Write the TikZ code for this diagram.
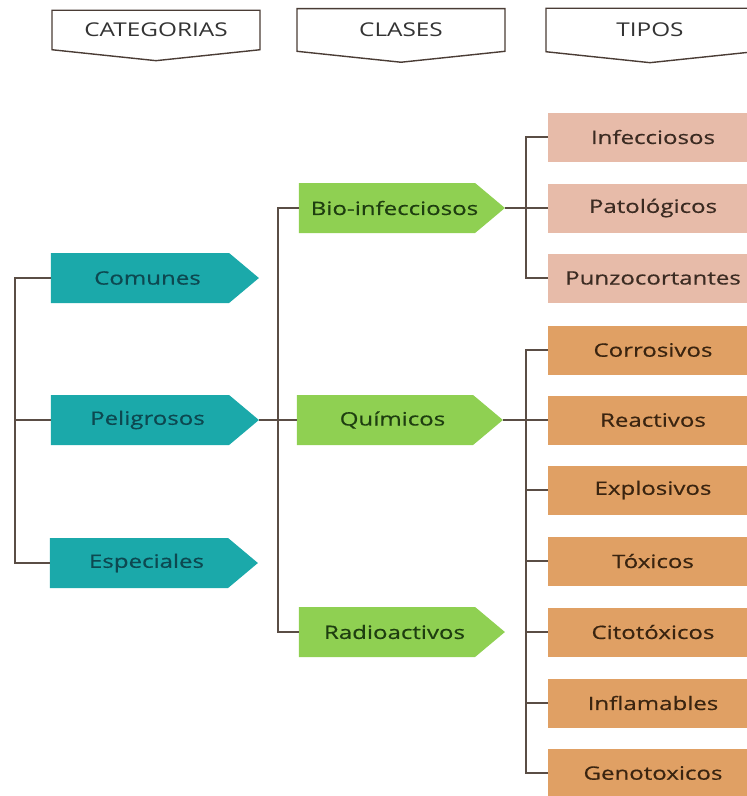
\documentclass[tikz,border=0pt]{standalone}
\usepackage{fontspec}
\setmainfont{Open Sans}[FakeStretch=1.28]
\newfontfamily\boxfont{Open Sans}[FakeStretch=1.3, FakeBold=0.5]
\usetikzlibrary{shapes.symbols}

% label nudged toward the arrow tip, without widening the node
\newcommand{\tiplabel}[1]{\makebox[0pt]{\hspace{15pt}#1}}

\definecolor{tealfill}{HTML}{1BA9AA}
\definecolor{tealtext}{HTML}{0D4850}
\definecolor{greenfill}{HTML}{8FD052}
\definecolor{greentext}{HTML}{1E3E10}
\definecolor{tanfill}{HTML}{E7BBA9}
\definecolor{tantext}{HTML}{3B2B22}
\definecolor{orangefill}{HTML}{E0A064}
\definecolor{orangetext}{HTML}{3A2410}
\definecolor{linecol}{HTML}{5A4D45}
\definecolor{headline}{HTML}{4A3C35}
\definecolor{headtext}{HTML}{333333}

\tikzset{
  header/.style={shape=signal, signal to=south, signal pointer angle=168,
    draw=headline, line width=1.4pt, fill=white, inner sep=0pt,
    minimum width=208pt, minimum height=47pt, text=headtext,
    font=\fontsize{19}{21}\selectfont},
  boxtext/.style={font=\boxfont\fontsize{18.5}{20}\selectfont},
  catbox/.style={shape=signal, signal to=east, signal pointer angle=80,
    fill=tealfill, inner sep=0pt, minimum width=208pt, minimum height=50pt,
    text=tealtext, boxtext},
  clasebox/.style={shape=signal, signal to=east, signal pointer angle=80,
    fill=greenfill, inner sep=0pt, minimum width=206pt, minimum height=50pt,
    text=greentext, boxtext},
  biotipo/.style={rectangle, fill=tanfill, inner sep=0pt,
    minimum width=210pt, minimum height=49pt, text=tantext, boxtext},
  quimtipo/.style={rectangle, fill=orangefill, inner sep=0pt,
    minimum width=210pt, minimum height=49pt, text=orangetext, boxtext},
  link/.style={draw=linecol, line width=1.5pt}
}

\begin{document}
\begin{tikzpicture}[x=1pt, y=-1pt]
\useasboundingbox (0,0) rectangle (747,796);

% column headers
\node[header] (hcat)   at (156,30) {CATEGORIAS};
\node[header] (hclase) at (401,30) {CLASES};
\node[header] (htipo)  at (650,30) {TIPOS};

% categories
\node[catbox] (comunes)    at (140,278) {\tiplabel{Comunes}};
\node[catbox] (peligrosos) at (140,420) {\tiplabel{Peligrosos}};
\node[catbox] (especiales) at (139,563) {\tiplabel{Especiales}};

% classes
\node[clasebox] (bio)   at (387,208) {\tiplabel{Bio-infecciosos}};
\node[clasebox] (quim)  at (385,420) {\tiplabel{Químicos}};
\node[clasebox] (radio) at (387,632) {\tiplabel{Radioactivos}};

% types of bio-infectious waste
\node[biotipo] (infecc)  at (653,137) {Infecciosos};
\node[biotipo] (patolog) at (653,208) {Patológicos};
\node[biotipo] (punzo)   at (653,278) {Punzocortantes};

% types of chemical waste
\node[quimtipo] (corros)  at (653,350) {Corrosivos};
\node[quimtipo] (react)   at (653,420) {Reactivos};
\node[quimtipo] (explos)  at (653,490) {Explosivos};
\node[quimtipo] (toxic)   at (653,561) {Tóxicos};
\node[quimtipo] (citotox) at (653,632) {Citotóxicos};
\node[quimtipo] (inflam)  at (653,703) {Inflamables};
\node[quimtipo] (genotox) at (653,773) {Genotoxicos};

% bracket spines
\coordinate (lb)  at (15,420);
\coordinate (mb)  at (278,420);
\coordinate (rb1) at (526,208);
\coordinate (rb2) at (526,420);

% categories bracket
\draw[link] (comunes.west) -| (lb) |- (especiales.west);
\draw[link] (peligrosos.west) -- (lb);

% classes bracket
\draw[link] (bio.west) -| (mb) |- (radio.west);
\draw[link] (peligrosos.east) -- (quim.west);

% bio-infectious bracket
\draw[link] (infecc.west) -| (rb1) |- (punzo.west);
\draw[link] (bio.east) -- (patolog.west);

% chemical bracket
\draw[link] (corros.west) -| (rb2) |- (genotox.west);
\draw[link] (quim.east) -- (react.west);
\draw[link] (rb2 |- explos.west) -- (explos.west);
\draw[link] (rb2 |- toxic.west) -- (toxic.west);
\draw[link] (rb2 |- citotox.west) -- (citotox.west);
\draw[link] (rb2 |- inflam.west) -- (inflam.west);
\end{tikzpicture}
\end{document}
